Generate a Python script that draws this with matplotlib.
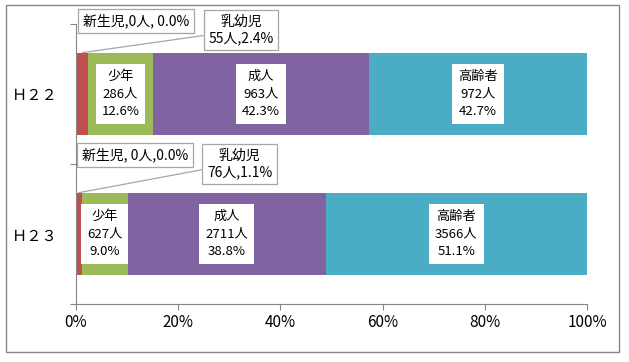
import matplotlib
matplotlib.use("Agg")
import matplotlib.pyplot as plt
from matplotlib.patches import Rectangle

plt.rcParams['font.family'] = ['Noto Sans CJK JP', 'DejaVu Sans']

years = ['Ｈ２２', 'Ｈ２３']
groups = ['新生児', '乳幼児', '少年', '成人', '高齢者']
counts = {
    '新生児': [0, 0],
    '乳幼児': [55, 76],
    '少年': [286, 627],
    '成人': [963, 2711],
    '高齢者': [972, 3566],
}
percents = {
    '新生児': [0.0, 0.0],
    '乳幼児': [2.4, 1.1],
    '少年': [12.6, 9.0],
    '成人': [42.3, 38.8],
    '高齢者': [42.7, 51.1],
}
colors = ['#4F81BD', '#C0504D', '#9BBB59', '#8064A2', '#4BACC6']
xticks = [0, 20, 40, 60, 80, 100]

W, H, DPI = 629, 362, 100
fig = plt.figure(figsize=(W / DPI, H / DPI), dpi=DPI)
ax = fig.add_axes([76 / W, 1 - 304 / H, (587 - 76) / W, (304 - 24) / H])

# outer border
fig.patches.append(Rectangle((6 / W, 1 - 352 / H), (619 - 6) / W, (352 - 5) / H,
                             transform=fig.transFigure, fill=False,
                             edgecolor='#868686', linewidth=1.0))

bar_h = 0.59
ypos = list(range(len(years)))
lefts = [0.0] * len(years)
starts = {}
for g, c in zip(groups, colors):
    vals = percents[g]
    ax.barh(ypos, vals, left=lefts, height=bar_h, color=c, edgecolor='none')
    starts[g] = list(lefts)
    lefts = [l + v for l, v in zip(lefts, vals)]

fs = 9.5
inner_box = dict(boxstyle='square,pad=0.45', facecolor='white', edgecolor='none')
for g in ['少年', '成人', '高齢者']:
    for i in ypos:
        cx = starts[g][i] + percents[g][i] / 2
        ax.text(cx, i, f"{g}\n{counts[g][i]}人\n{percents[g][i]:.1f}%",
                ha='center', va='center', fontsize=fs, linespacing=1.45,
                bbox=inner_box, zorder=5)

cfs = 10
call_box = dict(boxstyle='square,pad=0.35', facecolor='white', edgecolor='#A6A6A6',
                linewidth=0.9)
nb_texts = ['新生児,0人, 0.0%', '新生児, 0人,0.0%']
ny_texts = [f"乳幼児\n{counts['乳幼児'][0]}人,{percents['乳幼児'][0]:.1f}%",
            f"乳幼児\n{counts['乳幼児'][1]}人,{percents['乳幼児'][1]:.1f}%"]
# offsets in pixels relative to bar top-left
nb_off = [(60, 31.5), (59, 37.5)]
ny_off = [(165, 22.5), (163.5, 28.5)]
for i in ypos:
    top = i - bar_h / 2
    ax.annotate(nb_texts[i], xy=(0, top), xycoords='data',
                xytext=nb_off[i], textcoords='offset pixels',
                ha='center', va='center', fontsize=cfs, bbox=call_box,
                annotation_clip=False, zorder=6)
    mx = starts['乳幼児'][i] + percents['乳幼児'][i] / 2
    ax.annotate(ny_texts[i], xy=(mx, top), xycoords='data',
                xytext=(ny_off[i][0] - (mx / 100 * 511), ny_off[i][1]),
                textcoords='offset pixels',
                ha='center', va='center', fontsize=cfs, linespacing=1.25,
                bbox=call_box, annotation_clip=False, zorder=6,
                arrowprops=dict(arrowstyle='-', color='#A6A6A6', lw=0.9,
                                relpos=(0, 0.35), shrinkA=0, shrinkB=0))

ax.set_xlim(0, 100)
ax.set_ylim(len(years) - 0.5, -0.5)
ax.set_xticks(xticks)
ax.set_xticklabels([f"{t}%" for t in xticks], fontsize=11)
ax.set_yticks([-0.5, 0.5, 1.5])
ax.set_yticklabels([])
ax.set_yticks(ypos, minor=True)
ax.set_yticklabels(years, minor=True, fontsize=11)
ax.tick_params(axis='y', which='minor', length=0, pad=13)
ax.tick_params(axis='y', which='major', length=4, color='#868686')
ax.tick_params(axis='x', length=4, pad=3, color='#868686')
for s in ['top', 'right']:
    ax.spines[s].set_visible(False)
for s in ['left', 'bottom']:
    ax.spines[s].set_color('#868686')

fig.savefig('out.png', dpi=DPI)
